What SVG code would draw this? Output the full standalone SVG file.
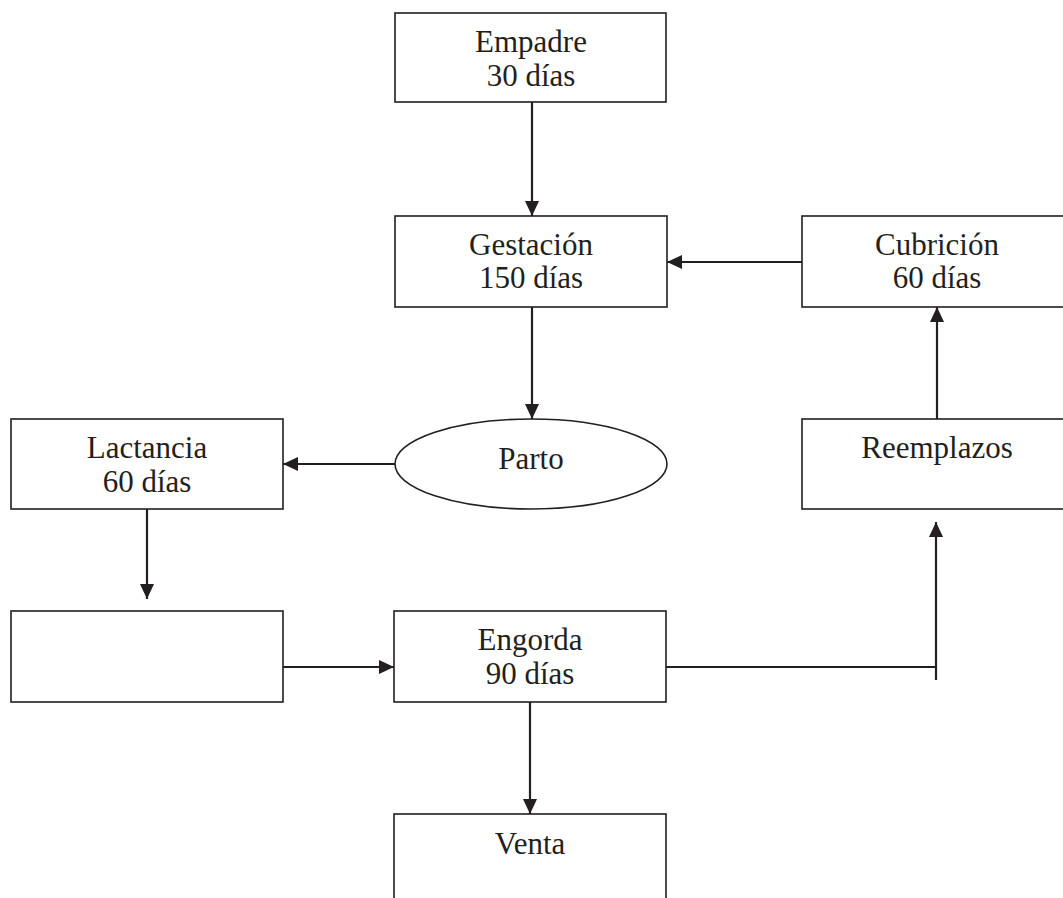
<svg xmlns="http://www.w3.org/2000/svg" width="1063" height="898" viewBox="0 0 1063 898">
<defs>
<style>
.box{fill:#fff;stroke:#231f20;stroke-width:1.6}
.lbl{font-family:"Liberation Serif","Times New Roman",serif;font-size:31px;fill:#231f20;text-anchor:middle}
.con{fill:none;stroke:#231f20;stroke-width:2.2}
</style>
<marker id="ah" markerUnits="userSpaceOnUse" markerWidth="16" markerHeight="15" refX="15" refY="7.5" orient="auto">
<path d="M0,0.5 L15,7.5 L0,14.5 z" fill="#231f20"/>
</marker>
</defs>
<rect width="1063" height="898" fill="#fff"/>
<g id="connectors">
<line class="con" x1="532" y1="102" x2="532" y2="216" marker-end="url(#ah)"/>
<line class="con" x1="802" y1="262" x2="667" y2="262" marker-end="url(#ah)"/>
<line class="con" x1="532" y1="307" x2="532" y2="419" marker-end="url(#ah)"/>
<line class="con" x1="395" y1="464" x2="283" y2="464" marker-end="url(#ah)"/>
<line class="con" x1="147" y1="509" x2="147" y2="599" marker-end="url(#ah)"/>
<line class="con" x1="283" y1="667" x2="394" y2="667" marker-end="url(#ah)"/>
<line class="con" x1="530" y1="702" x2="530" y2="814" marker-end="url(#ah)"/>
<line class="con" x1="666" y1="667" x2="936" y2="667"/>
<line class="con" x1="936" y1="680" x2="936" y2="522" marker-end="url(#ah)"/>
<line class="con" x1="937" y1="419" x2="937" y2="307" marker-end="url(#ah)"/>
</g>
<g id="empadre">
<rect class="box" x="395" y="13" width="271" height="89"/>
<text class="lbl" x="531" y="52">Empadre</text>
<text class="lbl" x="531" y="86">30 días</text>
</g>
<g id="gestacion">
<rect class="box" x="395" y="216" width="272" height="91"/>
<text class="lbl" x="531" y="255">Gestación</text>
<text class="lbl" x="531" y="288">150 días</text>
</g>
<g id="cubricion">
<rect class="box" x="802" y="216" width="271" height="91"/>
<text class="lbl" x="937" y="255">Cubrición</text>
<text class="lbl" x="937" y="288">60 días</text>
</g>
<g id="parto">
<ellipse class="box" cx="531" cy="464" rx="136" ry="45"/>
<text class="lbl" x="531" y="469">Parto</text>
</g>
<g id="lactancia">
<rect class="box" x="11" y="419" width="272" height="90"/>
<text class="lbl" x="147" y="458">Lactancia</text>
<text class="lbl" x="147" y="492">60 días</text>
</g>
<g id="reemplazos">
<rect class="box" x="802" y="419" width="271" height="90"/>
<text class="lbl" x="937" y="458">Reemplazos</text>
</g>
<g id="blank">
<rect class="box" x="11" y="611" width="272" height="91"/>
</g>
<g id="engorda">
<rect class="box" x="394" y="611" width="272" height="91"/>
<text class="lbl" x="530" y="650">Engorda</text>
<text class="lbl" x="530" y="684">90 días</text>
</g>
<g id="venta">
<rect class="box" x="394" y="814" width="272" height="100"/>
<text class="lbl" x="530" y="854">Venta</text>
</g>
</svg>
